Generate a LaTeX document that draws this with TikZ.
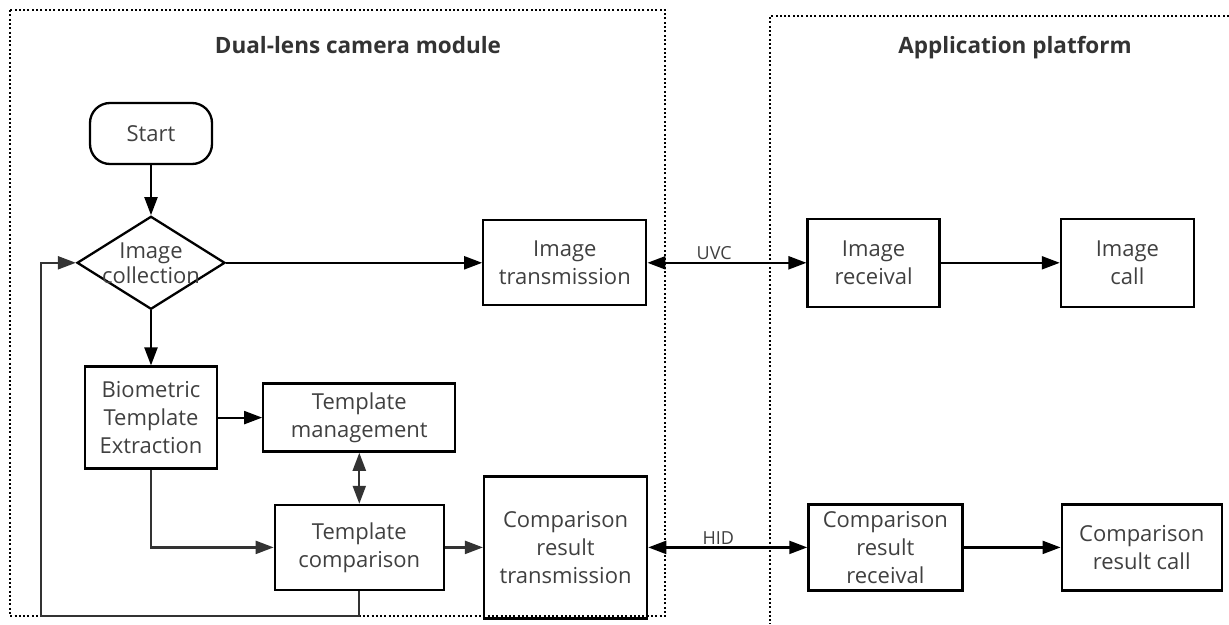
\documentclass[tikz,border=0pt]{standalone}
\usepackage{fontspec}
\setmainfont{Open Sans}
\usepackage{xcolor}
\usepackage{tikz}
\usetikzlibrary{shapes.geometric, arrows.meta, positioning, calc}
\definecolor{textgray}{RGB}{64, 64, 64}
\definecolor{titlegray}{RGB}{51, 51, 51}
\definecolor{linegray}{RGB}{51, 51, 51}

\begin{document}
\begin{tikzpicture}[
    x=1pt, y=-1pt,
    process/.style={rectangle, draw, line width=2.3pt, inner sep=0pt, align=center, text=textgray, font=\fontsize{22}{28}\selectfont},
    startstop/.style={process, rounded corners=20pt},
    decision/.style={diamond, draw, line width=2.3pt, inner sep=0pt, minimum width=148pt, minimum height=93pt},
    nodetext/.style={align=center, text=textgray, font=\fontsize{22}{25}\selectfont},
    title/.style={anchor=base, text=titlegray, font=\fontsize{22.5}{26}\selectfont\bfseries},
    tag/.style={text=textgray, font=\fontsize{18}{20}\selectfont, inner sep=2pt},
    group/.style={line width=2pt, dash pattern=on 2pt off 2.3pt},
    arrow/.style={-{Triangle[length=18pt, width=13pt]}, line width=2.2pt},
    grayarrow/.style={arrow, linegray},
    dblarrow/.style={{Triangle[length=18pt, width=13pt]}-{Triangle[length=18pt, width=13pt]}, line width=2.2pt},
]
\useasboundingbox (0,0) rectangle (1229,624);

% ============ FRAMES ============
\draw[group] (10,10) rectangle (665,616);
\draw[group] (1229,16) -- (770,16) -- (770,624);
\node[title] (camtitle) at (358,53) {Dual-lens camera module};
\node[title] (apptitle) at (1015,53) {Application platform};

% ============ CAMERA MODULE ============
% Start
\node[startstop, minimum width=122pt, minimum height=61pt] (start) at (151,133.5) {Start};

% Image collection
\node[decision, below=50pt of start] (collect) {};
\node[nodetext] (collecttext) at (collect) {Image\\collection};

% Biometric template extraction
\node[process, minimum width=132pt, minimum height=102pt, below=55pt of collect] (extract) {Biometric\\Template\\Extraction};

% Template management
\node[process, minimum width=192pt, minimum height=68pt, right=44pt of extract] (manage) {Template\\management};

% Template comparison
\node[process, minimum width=169pt, minimum height=85pt, below=51pt of manage] (compare) {Template\\comparison};

% Transmission
\node[process, minimum width=163pt, minimum height=85pt, right=256pt of collect] (imgtrans) {Image\\transmission};
\node[process, minimum width=163pt, minimum height=142pt, right=38pt of compare] (restrans) {Comparison\\result\\transmission};

% ============ APPLICATION PLATFORM ============
\node[process, minimum width=132pt, minimum height=88pt, right=159pt of imgtrans] (imgrecv) {Image\\receival};
\node[process, minimum width=133pt, minimum height=88pt, right=119pt of imgrecv] (imgcall) {Image\\call};
\node[process, minimum width=154pt, minimum height=86pt, right=159pt of restrans] (resrecv) {Comparison\\result\\receival};
\node[process, minimum width=160pt, minimum height=86pt, right=97pt of resrecv] (rescall) {Comparison\\result call};

% ============ ARROWS ============
% Main flow
\draw[arrow] (start) -- (collect);
\draw[arrow] (collect) -- (extract);
\draw[arrow] (collect) -- (imgtrans);
\draw[arrow] (extract) -- (manage);
\draw[grayarrow] (extract.south) |- (compare.west);
\draw[dblarrow, linegray] (manage) -- (compare);
\draw[grayarrow] (compare) -- (restrans);

% Loop back to image collection
\coordinate (loopbase) at (41,616);
\draw[grayarrow] (compare.south) |- (loopbase) |- (collect.west);

% Links to the platform
\draw[dblarrow] (imgtrans) -- node[tag, above, pos=0.42] {UVC} (imgrecv);
\draw[dblarrow] (restrans) -- node[tag, above, pos=0.44] {HID} (resrecv);
\draw[arrow] (imgrecv) -- (imgcall);
\draw[arrow] (resrecv) -- (rescall);

\end{tikzpicture}
\end{document}
